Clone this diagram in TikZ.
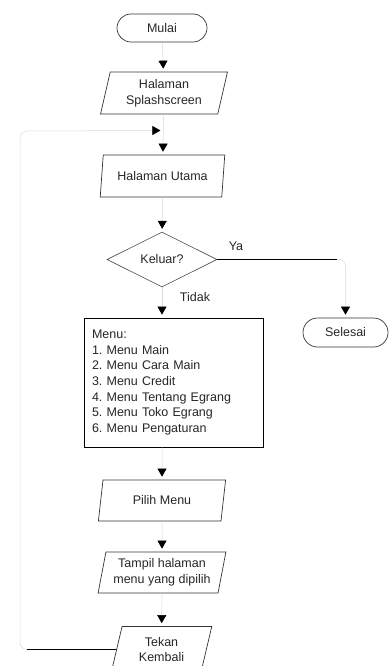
\documentclass[tikz,border=0pt]{standalone}
\usepackage{fontspec}
\setmainfont{Liberation Sans}
\usetikzlibrary{calc,shapes.geometric,shapes.misc,arrows.meta}

\tikzset{
  terminal/.style={rounded rectangle, draw=black!80, line width=0.7pt, minimum width=#1, minimum height=28pt, inner sep=0pt},
  inout/.style={trapezium, trapezium left angle=76, trapezium right angle=104, trapezium stretches=true,
    draw=black!80, line width=0.7pt, minimum width=#1, minimum height=42pt, inner sep=0pt, align=center},
  decision/.style={diamond, draw=black!70, line width=0.6pt, minimum width=110pt, minimum height=55pt, inner sep=0pt},
  menubox/.style={rectangle, draw=black, line width=0.8pt, minimum width=179pt, minimum height=129pt,
    text width=163pt, inner sep=0pt, align=left},
  flowline/.style={draw=black, line width=0.8pt},
  flowfaint/.style={draw=black!15, line width=0.5pt},
  flowarrow/.style={-{Triangle[width=9pt,length=8pt,color=black]}, shorten >=3pt}
}

\begin{document}
\frenchspacing
\begin{tikzpicture}[x=1pt, y=-1pt, font=\fontsize{12.5}{15.7}\selectfont, text=black!85]
  %%%%% START %%%%%
  \useasboundingbox (0,0) rectangle (390,666);

  \node[terminal=90pt] (mulai) at (162,28) {Mulai};
  \node[inout=128pt] (splash) at (164,93) {Halaman\\Splashscreen};
  \node[inout=125pt] (utama) at (162.5,176) {Halaman Utama};
  \node[decision] (keluar) at (162,259.5) {Keluar?};
  \node[terminal=85pt, minimum height=29pt] (selesai) at (345.5,332.5) {Selesai};
  \node[menubox] (menu) at (173.5,382.5) {Menu:\\
    1. Menu Main\\
    2. Menu Cara Main\\
    3. Menu Credit\\
    4. Menu Tentang Egrang\\
    5. Menu Toko Egrang\\
    6. Menu Pengaturan};
  \node[inout=128pt, minimum height=41pt] (pilih) at (162,500.5) {Pilih Menu};
  \node[inout=128pt, minimum height=41pt] (tampil) at (162,572.5) {Tampil halaman\\menu yang dipilih};
  \node[inout=101pt, minimum height=46pt] (kembali) at (161.5,649.5) {Tekan\\Kembali};

  \node (ya) at (236,246) {Ya};
  \node (tidak) at (195,297) {Tidak};

  % alur utama
  \draw[flowfaint, flowarrow] (mulai) -- (splash);
  \draw[flowfaint, flowarrow] (splash) -- (utama);
  \draw[flowfaint, flowarrow] (utama) -- (keluar);
  \draw[flowfaint, flowarrow] (keluar.south) -- (keluar.south |- menu.north);
  \draw[flowfaint, flowarrow] (menu.south -| pilih.north) -- (pilih);
  \draw[flowfaint, flowarrow] (pilih) -- (tampil);
  \draw[flowfaint, flowarrow] (tampil) -- (kembali);

  % ya -> selesai
  \coordinate (yabend) at (337,259.5);
  \draw[flowline] (keluar.east) -- (yabend);
  \draw[flowfaint, flowarrow, rounded corners=6pt] (yabend) -| (selesai.north);

  % kembali -> halaman utama
  \coordinate (join) at ($(splash.south)!0.4!(utama.north)$);
  \coordinate (backlow) at (27,649.5);
  \coordinate (backtop) at (20,131);
  \draw[flowline] (kembali.west) -- (backlow);
  \draw[flowfaint, flowarrow, rounded corners=7pt] (backlow) -| (backtop) -- (join);

  %%%%% END %%%%%
\end{tikzpicture}
\end{document}
